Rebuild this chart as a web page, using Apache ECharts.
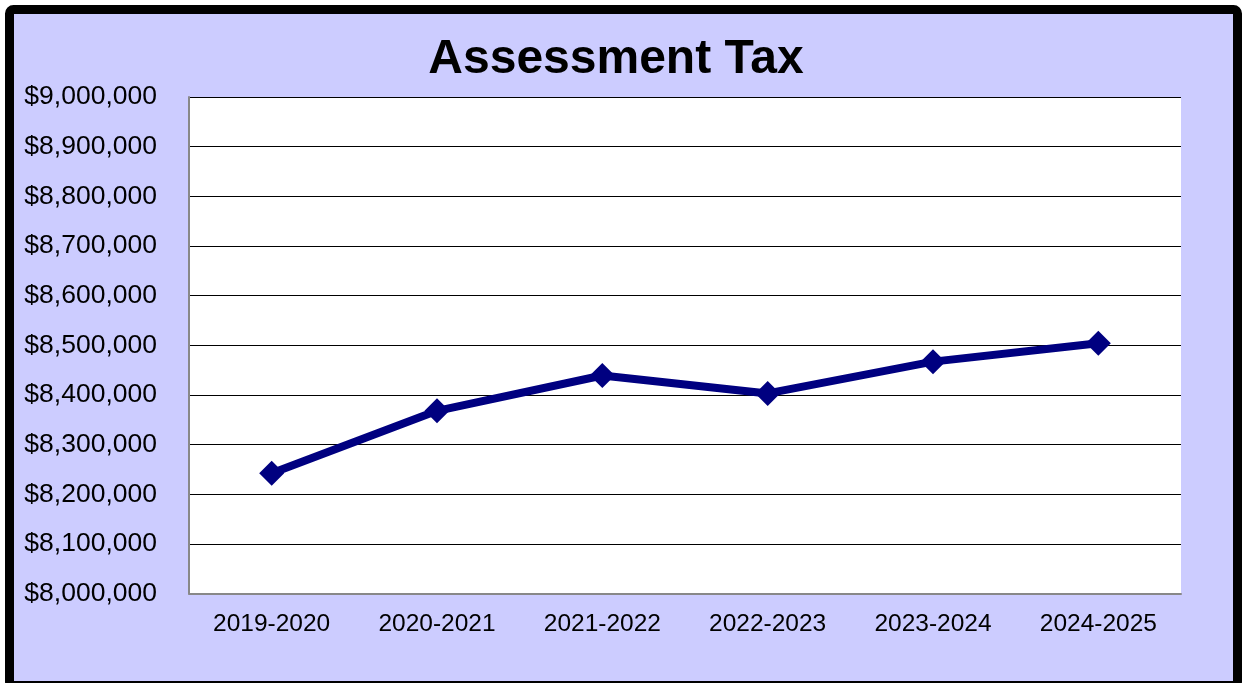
<!DOCTYPE html>
<html>
<head>
<meta charset="utf-8">
<script src="https://cdn.jsdelivr.net/npm/echarts@6/dist/echarts.min.js"></script>
<style>
  html, body { margin: 0; padding: 0; background: #ffffff; }
  #chart { width: 1243px; height: 683px; }
</style>
</head>
<body>
<div id="chart"></div>
<script>
// Fiscal years and the assessment tax collected in each
const years = ['2019-2020', '2020-2021', '2021-2022', '2022-2023', '2023-2024', '2024-2025'];
const assessmentTax = [8242000, 8368000, 8439000, 8403000, 8467000, 8504000];

// Value axis range
const yMin = 8000000;
const yMax = 9000000;
const yStep = 100000;

const FONT = '"Liberation Sans", Arial, sans-serif';

function dollars(v) {
  return '$' + Math.round(v).toString().replace(/\B(?=(\d{3})+(?!\d))/g, ',');
}

const chart = echarts.init(document.getElementById('chart'), null, { renderer: 'canvas' });

chart.setOption({
  backgroundColor: '#ffffff',
  animation: false,
  graphic: [{
    type: 'rect',
    z: -10,
    silent: true,
    shape: { x: 9.5, y: 9.5, width: 1228, height: 676, r: 4 },
    style: { fill: '#CCCCFF', stroke: '#000000', lineWidth: 9 }
  }],
  title: {
    text: 'Assessment Tax',
    left: 611,
    textAlign: 'center',
    top: 31,
    textStyle: { fontFamily: FONT, fontWeight: 'bold', fontSize: 48, color: '#000000' }
  },
  grid: {
    left: 189,
    right: 62,
    top: 97,
    bottom: 89.5,
    show: true,
    backgroundColor: '#ffffff',
    borderWidth: 0
  },
  xAxis: {
    type: 'category',
    data: years,
    boundaryGap: true,
    axisLine: { show: true, lineStyle: { color: '#888888', width: 2 } },
    axisTick: { show: false },
    axisLabel: { fontFamily: FONT, fontSize: 24.5, color: '#000000', margin: 18 }
  },
  yAxis: {
    type: 'value',
    min: yMin,
    max: yMax,
    interval: yStep,
    axisLine: { show: true, lineStyle: { color: '#888888', width: 2 } },
    axisTick: { show: false },
    splitLine: { show: true, lineStyle: { color: '#000000', width: 1 } },
    axisLabel: { fontFamily: FONT, fontSize: 26.5, color: '#000000', margin: 32, formatter: dollars }
  },
  series: [{
    type: 'line',
    data: assessmentTax,
    symbol: 'diamond',
    symbolSize: 25,
    lineStyle: { color: '#000080', width: 8 },
    itemStyle: { color: '#000080' }
  }]
});
</script>
</body>
</html>
